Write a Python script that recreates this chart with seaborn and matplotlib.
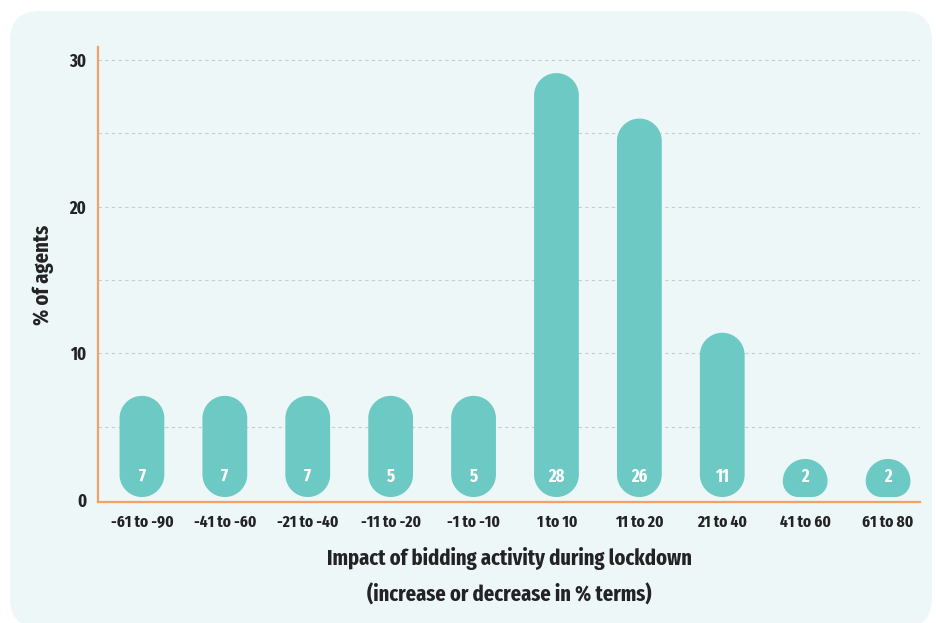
import numpy as np
import pandas as pd
import matplotlib
matplotlib.use('Agg')
import matplotlib.pyplot as plt
import seaborn as sns
from matplotlib.patches import FancyBboxPatch, PathPatch
from matplotlib.path import Path

# data
ranges = ['-61 to -90', '-41 to -60', '-21 to -40', '-11 to -20', '-1 to -10',
          '1 to 10', '11 to 20', '21 to 40', '41 to 60', '61 to 80']
labels = [7, 7, 7, 5, 5, 28, 26, 11, 2, 2]
# drawn bar tops (the design draws the "5" bars as tall as the "7" ones)
bar_tops = [7.1, 7.1, 7.1, 7.1, 7.1, 29.1, 26.0, 11.4, 2.8, 2.8]

BAR = '#6CC9C4'
ORANGE = '#F6A066'
TEXT = '#232323'
PANEL = '#EDF7F8'

sns.set_theme(style='white')
plt.rcParams['font.family'] = ['Fira Sans Extra Condensed', 'DejaVu Sans']
plt.rcParams['font.weight'] = 'bold'

df = pd.DataFrame({'range': ranges, 'top': bar_tops, 'label': labels})

fig = plt.figure(figsize=(9.36, 6.23), dpi=100)
fig.patch.set_facecolor('white')
panel = FancyBboxPatch((0.10, -0.05), 9.22, 6.17,
                       boxstyle='round,pad=0,rounding_size=0.3',
                       transform=fig.dpi_scale_trans, facecolor=PANEL,
                       edgecolor='none', zorder=-10)
fig.patches.append(panel)

ax = fig.add_axes([0.1047, 0.1942, 0.8782, 0.7304])
ax.set_facecolor('none')

sns.barplot(data=df, x='range', y='top', color=BAR, width=0.54, ax=ax,
            saturation=1, zorder=3)

ax.set_xlim(-0.53, 9.385)
ax.set_ylim(-0.136, 30.88)
ax.set_yticks([0, 10, 20, 30])
ax.set_yticks([5, 15, 25], minor=True)
ax.grid(True, axis='y', which='both', color='#c9cccc', linestyle=(0, (3, 3)),
        linewidth=0.8, zorder=1)
ax.yaxis.get_gridlines()[0].set_visible(False)
ax.tick_params(axis='both', which='both', length=0)
ax.tick_params(axis='y', pad=8.5, labelsize=13, labelcolor=TEXT)
ax.tick_params(axis='x', pad=9, labelsize=12, labelcolor=TEXT)

for s in ['top', 'right']:
    ax.spines[s].set_visible(False)
for s in ['left', 'bottom']:
    ax.spines[s].set_color(ORANGE)
    ax.spines[s].set_linewidth(1.6)

ax.set_xlabel('Impact of bidding activity during lockdown\n(increase or decrease in % terms)',
              fontsize=16, color=TEXT, labelpad=12, linespacing=1.8, fontweight='bold')
ax.set_ylabel('% of agents', fontsize=16, color=TEXT, labelpad=11, fontweight='bold')

# replace the rectangles by rounded pills
fig.canvas.draw()
to_px = ax.transData
inv = ax.transData.inverted()


def arc(cx, cy, r, a0, a1, n=30):
    t = np.linspace(np.radians(a0), np.radians(a1), n)
    return np.column_stack([cx + r * np.cos(t), cy + r * np.sin(t)])


for p, lab in zip(list(ax.patches), df['label']):
    x0, w, h = p.get_x(), p.get_width(), p.get_height()
    p.set_visible(False)
    (l, b), (r, t) = to_px.transform([(x0, 0), (x0 + w, h)])
    b += 3
    wp = r - l
    rt = min(wp / 2, t - b)
    rb = min(wp / 2, t - b - rt)
    pts = np.vstack([
        arc(l + rb, b + rb, rb, 180, 270),
        arc(r - rb, b + rb, rb, 270, 360),
        arc(r - rt, t - rt, rt, 0, 90),
        arc(l + rt, t - rt, rt, 90, 180),
    ])
    pts = inv.transform(pts)
    ax.add_patch(PathPatch(Path(pts, closed=False), facecolor=BAR,
                           edgecolor='none', zorder=3))
    ax.text(x0 + w / 2, 1.6, str(lab), ha='center', va='center',
            color='white', fontsize=13, fontweight='bold', zorder=4)

fig.savefig('out.png', dpi=100, facecolor='white')
